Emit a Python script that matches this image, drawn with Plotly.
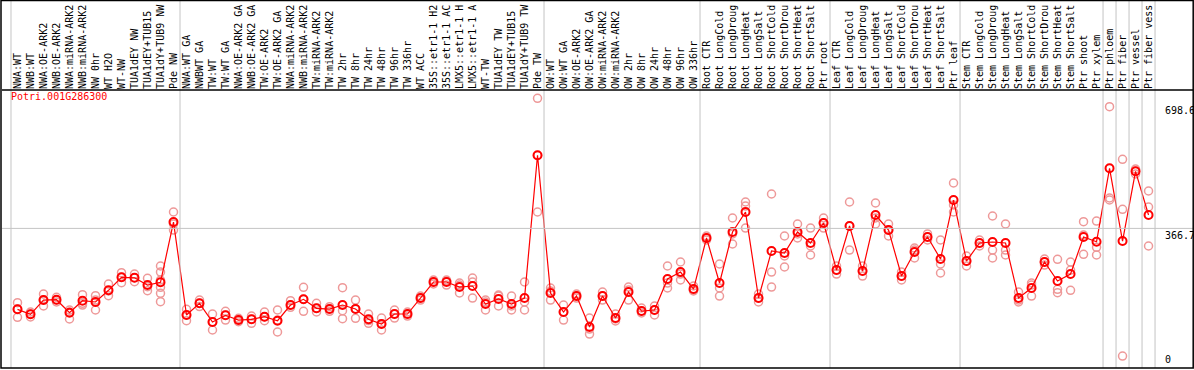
import plotly.graph_objects as go

# ---------------- data ----------------
group_sizes = [13, 28, 12, 10, 10, 11, 1, 1, 1, 1]

labels = [
    "NWA:WT", "NWB:WT", "NWA:OE-ARK2", "NWB:OE-ARK2", "NWA:miRNA-ARK2", "NWB:miRNA-ARK2",
    "NW 0hr", "WT H2O", "WT-NW", "TUA1dEY NW", "TUA1dEY+TUB15", "TUA1dY+TUB9 NW", "Pde NW",
    "NWA:WT GA", "NWBWT GA", "TW:WT", "TW:WT GA", "NWA:OE-ARK2 GA", "NWB:OE-ARK2 GA",
    "TW:OE-ARK2", "TW:OE-ARK2 GA", "NWA:miRNA-ARK2", "NWB:miRNA-ARK2", "TW:miRNA-ARK2",
    "TW:miRNA-ARK2", "TW 2hr", "TW 8hr", "TW 24hr", "TW 48hr", "TW 96hr", "TW 336hr",
    "WT ACC", "35S::etr1-1 H2", "35S::etr1-1 AC", "LMX5::etr1-1 H", "LMX5::etr1-1 A",
    "WT-TW", "TUA1dEY TW", "TUA1dEY+TUB15", "TUA1dY+TUB9 TW", "Pde TW",
    "OW:WT", "OW:WT GA", "OW:OE-ARK2", "OW:OE-ARK2 GA", "OW:miRNA-ARK2", "OW:miRNA-ARK2",
    "OW 2hr", "OW 8hr", "OW 24hr", "OW 48hr", "OW 96hr", "OW 336hr",
    "Root CTR", "Root LongCold", "Root LongDroug", "Root LongHeat", "Root LongSalt",
    "Root ShortCold", "Root ShortDrou", "Root ShortHeat", "Root ShortSalt", "Ptr root",
    "Leaf CTR", "Leaf LongCold", "Leaf LongDroug", "Leaf LongHeat", "Leaf LongSalt",
    "Leaf ShortCold", "Leaf ShortDrou", "Leaf ShortHeat", "Leaf ShortSalt", "Ptr leaf",
    "Stem CTR", "Stem LongCold", "Stem LongDroug", "Stem LongHeat", "Stem LongSalt",
    "Stem ShortCold", "Stem ShortDrou", "Stem ShortHeat", "Stem ShortSalt", "Ptr shoot",
    "Ptr xylem", "Ptr phloem", "Ptr fiber", "Ptr vessel", "Ptr fiber vess",
]

means = [
    152.6, 139.4, 177.2, 178.0, 143.6, 175.4, 172.0, 202.9, 237.3, 236.2, 216.9, 224.1, 383.6,
    137.6, 168.5, 119.0, 136.8, 124.3, 126.2, 133.1, 122.5, 164.0, 179.1, 155.3, 153.4,
    164.0, 153.4, 126.2, 113.8, 140.2, 140.2, 182.5, 224.9, 224.9, 211.6, 214.3, 166.7,
    179.9, 166.7, 182.5, 560.1,
    195.8, 145.5, 187.8, 105.8, 187.8, 129.6, 198.4, 148.1, 150.8, 232.8, 251.3, 206.3,
    341.3, 222.2, 357.1, 410.1, 182.5, 306.9, 301.6, 357.1, 328.0, 380.9,
    256.6, 373.0, 254.0, 402.1, 362.4, 240.7, 304.2, 343.9, 285.7, 441.8,
    280.4, 328.0, 330.7, 328.0, 182.5, 209.0, 277.8, 227.5, 246.0, 343.9, 331.5,
    525.7, 333.3, 517.7, 402.1,
]

replicates = [
    [170.1, 153.4, 131.5], [145.5, 140.2, 132.3], [193.1, 177.2, 161.4], [184.4, 177.2, 172.0],
    [150.8, 145.5, 127.0], [191.3, 168.5, 164.0], [188.6, 177.2, 150.8], [219.6, 201.1, 188.6],
    [249.5, 237.3, 223.0], [246.0, 236.2, 225.7], [234.7, 212.4, 201.9],
    [267.2, 251.3, 230.2, 210.8, 195.0, 172.8], [410.1, 378.3, 362.4],
    [152.6, 137.6, 122.5], [177.2, 168.5, 159.8], [140.2, 119.0, 97.9], [147.4, 137.6, 124.3],
    [128.8, 124.3, 119.8], [134.9, 126.2, 115.6], [145.5, 132.3, 122.5], [150.8, 124.3, 92.6],
    [175.4, 164.0, 157.9], [210.8, 179.1, 147.4], [168.5, 155.3, 145.5], [159.5, 153.4, 147.4],
    [209.8, 148.9, 127.8], [177.2, 154.2, 128.8], [140.2, 115.6, 122.8], [129.6, 113.8, 97.9],
    [150.8, 140.2, 129.6], [145.5, 140.2, 134.9], [187.8, 182.5, 177.2], [230.2, 224.9, 219.6],
    [230.2, 227.5, 216.9], [222.2, 216.9, 195.8], [235.5, 224.9, 182.5], [177.2, 172.0, 150.8],
    [187.8, 190.5, 161.4], [187.8, 161.4, 150.8], [224.9, 172.0, 150.8], [710.9, 559.3, 410.1],
    [209.0, 201.1, 177.2], [164.0, 145.5, 124.3], [193.1, 187.8, 182.5], [129.6, 100.5, 87.3],
    [198.4, 187.8, 177.2], [140.2, 127.0, 121.7], [211.6, 203.7, 177.2], [156.1, 148.1, 142.9],
    [161.4, 150.8, 137.6], [267.2, 222.2, 209.0], [277.8, 246.0, 230.2], [214.3, 203.7, 201.1],
    [346.6, 341.3, 336.0], [272.5, 209.0, 187.8], [394.2, 352.0, 325.4], [436.5, 425.9, 367.7],
    [193.1, 182.5, 172.0], [457.7, 251.3, 211.6], [346.6, 293.7, 264.6], [378.3, 352.0, 341.3],
    [367.7, 320.1, 296.3], [394.2, 380.9, 367.7],
    [267.2, 256.6, 246.0], [436.5, 373.0, 309.5], [267.2, 254.0, 240.7], [433.9, 394.2, 378.3],
    [378.3, 362.4, 346.6], [251.3, 240.7, 230.2], [314.8, 309.5, 288.4], [352.0, 343.9, 336.0],
    [336.0, 272.5, 248.7], [486.8, 428.6, 410.1],
    [293.7, 280.4, 267.2], [336.0, 328.0, 320.1], [399.5, 309.5, 288.4], [378.3, 309.5, 296.3],
    [198.4, 177.2, 172.0], [222.2, 216.9, 187.8], [285.7, 277.8, 269.8], [284.9, 205.6, 196.6],
    [277.8, 256.6, 202.9], [384.4, 349.2, 298.1], [386.2, 316.7, 296.3],
    [688.6, 447.1, 441.8], [549.5, 417.2, 29.1], [523.8, 517.7, 510.6], [465.6, 423.3, 320.1],
]

gene_id = "Potri.001G286300"
y_ticks = [0, 366.7, 698.6]
y_ticktext = ["0", "366.7", "698.6"]

# ---------------- figure ----------------
W, H = 1194, 370
ML, MR, MT, MB = 2, 1, 90, 2
X_RANGE = [-1.192, 90.42]
Y_RANGE = [-2.6, 732.8]
FONT = "DejaVu Sans Mono"

xs = list(range(len(labels)))
rep_x, rep_y = [], []
for i, reps in enumerate(replicates):
    for v in reps:
        rep_x.append(i)
        rep_y.append(v)

fig = go.Figure()
fig.add_trace(go.Scatter(
    x=rep_x, y=rep_y, mode="markers",
    marker=dict(symbol="circle-open", size=8, color="#ee9999", line=dict(width=1.5, color="#ee9999")),
    hoverinfo="skip", showlegend=False, cliponaxis=True,
))
fig.add_trace(go.Scatter(
    x=xs, y=means, mode="lines+markers",
    line=dict(color="#ff0000", width=1.2),
    marker=dict(symbol="circle-open", size=8, color="#ff0000", line=dict(width=2, color="#ff0000")),
    showlegend=False,
))

def xpaper(v):
    return (v - X_RANGE[0]) / (X_RANGE[1] - X_RANGE[0])

plot_w = W - ML - MR
plot_h = H - MT - MB
top_paper = (H - MB - 0.5) / plot_h

shapes = []
# group separators
b = 0
bounds = [0]
for g in group_sizes:
    b += g
    bounds.append(b)
for k in bounds:
    xp = xpaper(k - 0.5)
    shapes.append(dict(type="line", xref="paper", yref="paper", x0=xp, x1=xp, y0=0, y1=top_paper,
                       line=dict(color="#c4c4c4", width=1)))
# gridline at middle tick
shapes.append(dict(type="line", xref="paper", yref="y", x0=0, x1=1, y0=y_ticks[1], y1=y_ticks[1],
                   line=dict(color="#c4c4c4", width=1)))
# separator between labels and plot
shapes.append(dict(type="line", xref="paper", yref="paper", x0=0, x1=1, y0=1, y1=1,
                   line=dict(color="black", width=1.5)))
# outer frame
shapes.append(dict(type="rect", xref="paper", yref="paper",
                   x0=(1 - ML) / plot_w, x1=(W - 0.8 - ML) / plot_w,
                   y0=0, y1=top_paper, line=dict(color="black", width=1.5)))

annotations = [dict(
    text=gene_id, xref="paper", yref="paper", x=(9 - ML) / plot_w, y=(H - MB - 97) / plot_h,
    xanchor="left", yanchor="middle", showarrow=False, font=dict(family=FONT, size=10, color="#ff0000"),
)]
for v, t in zip(y_ticks, y_ticktext):
    annotations.append(dict(
        text=t, xref="paper", yref="y", x=(1163 - ML) / plot_w, y=v, xanchor="left",
        yanchor="bottom" if v == 0 else "top", showarrow=False,
        font=dict(family=FONT, size=10, color="black"),
    ))

fig.update_layout(
    width=W, height=H,
    margin=dict(l=ML, r=MR, t=MT, b=MB, pad=0),
    paper_bgcolor="white", plot_bgcolor="white",
    shapes=shapes, annotations=annotations,
    xaxis=dict(range=X_RANGE, side="top", tickmode="array", tickvals=xs, ticktext=labels,
               tickangle=-90, ticks="", showgrid=False, zeroline=False, showline=False,
               tickfont=dict(family=FONT, size=10, color="black"), automargin=False, fixedrange=True),
    yaxis=dict(range=Y_RANGE, showticklabels=False, ticks="", showgrid=False, zeroline=False,
               showline=False, automargin=False, fixedrange=True),
    showlegend=False,
)

fig.write_html(
    "out.html",
    config={"displayModeBar": False},
    post_script="document.body.style.margin='0';document.body.style.overflow='hidden';",
)
